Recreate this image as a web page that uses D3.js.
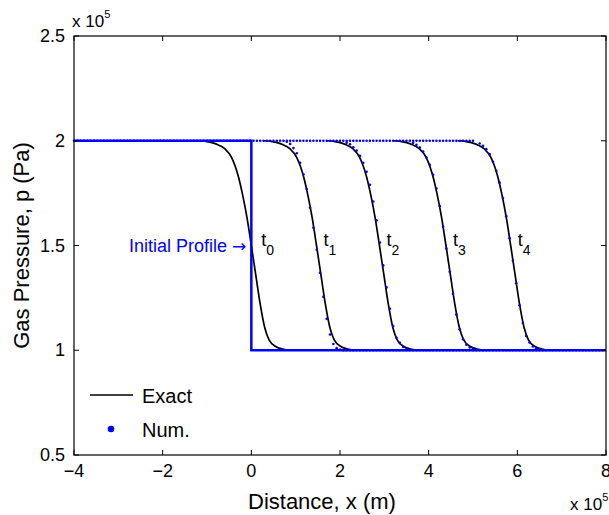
<!DOCTYPE html>
<html>
<head>
<meta charset="utf-8">
<script src="https://cdn.jsdelivr.net/npm/d3@7/dist/d3.min.js"></script>
<style>
  body { margin: 0; background: #fff; }
  text { font-family: "Liberation Sans", Arial, Helvetica, sans-serif; }
</style>
</head>
<body>
<svg id="chart"></svg>
<script>
// x in units of 1e5 m, p in units of 1e5 Pa
const xTicks = [-4, -2, 0, 2, 4, 6, 8];
const yTicks = [0.5, 1, 1.5, 2, 2.5];
const timeLabels = ["0", "1", "2", "3", "4"];

// initial step profile
const initialProfile = [[-4, 2], [0, 2], [0, 1], [8, 1]];

// exact solution, one array per time
const exact0 = [[-1.2, 2.0], [-1.0, 1.996], [-0.8, 1.985], [-0.6, 1.962], [-0.45, 1.922], [-0.3, 1.835], [-0.2, 1.745], [-0.1, 1.635], [0, 1.5], [0.1, 1.36], [0.2, 1.22], [0.3, 1.11], [0.4, 1.05], [0.55, 1.018], [0.7, 1.006], [0.9, 1.001], [1.1, 1.0]];
const exact1 = [[0.27, 2.0], [0.47, 1.996], [0.67, 1.985], [0.87, 1.962], [1.02, 1.922], [1.17, 1.835], [1.27, 1.745], [1.37, 1.635], [1.47, 1.5], [1.57, 1.36], [1.67, 1.22], [1.77, 1.11], [1.87, 1.05], [2.02, 1.018], [2.17, 1.006], [2.37, 1.001], [2.57, 1.0]];
const exact2 = [[1.69, 2.0], [1.89, 1.996], [2.09, 1.985], [2.29, 1.962], [2.44, 1.922], [2.59, 1.835], [2.69, 1.745], [2.79, 1.635], [2.89, 1.5], [2.99, 1.36], [3.09, 1.22], [3.19, 1.11], [3.29, 1.05], [3.44, 1.018], [3.59, 1.006], [3.79, 1.001], [3.99, 1.0]];
const exact3 = [[3.19, 2.0], [3.39, 1.996], [3.59, 1.985], [3.79, 1.962], [3.94, 1.922], [4.09, 1.835], [4.19, 1.745], [4.29, 1.635], [4.39, 1.5], [4.49, 1.36], [4.59, 1.22], [4.69, 1.11], [4.79, 1.05], [4.94, 1.018], [5.09, 1.006], [5.29, 1.001], [5.49, 1.0]];
const exact4 = [[4.65, 2.0], [4.85, 1.996], [5.05, 1.985], [5.25, 1.962], [5.4, 1.922], [5.55, 1.835], [5.65, 1.745], [5.75, 1.635], [5.85, 1.5], [5.95, 1.36], [6.05, 1.22], [6.15, 1.11], [6.25, 1.05], [6.4, 1.018], [6.55, 1.006], [6.75, 1.001], [6.95, 1.0]];

// numerical solution, points in the moving front
const num1 = [[0.8, 1.995], [0.875, 1.985], [0.95, 1.965], [1.025, 1.94], [1.1, 1.895], [1.175, 1.84], [1.25, 1.77], [1.325, 1.68], [1.4, 1.585], [1.475, 1.48], [1.55, 1.37], [1.625, 1.255], [1.7, 1.15], [1.775, 1.075], [1.85, 1.03], [1.925, 1.01], [2.0, 1.003]];
const num2 = [[2.15, 1.991], [2.225, 1.983], [2.3, 1.969], [2.375, 1.953], [2.45, 1.928], [2.525, 1.895], [2.6, 1.852], [2.675, 1.79], [2.75, 1.71], [2.825, 1.62], [2.9, 1.514], [2.975, 1.405], [3.05, 1.3], [3.125, 1.198], [3.2, 1.116], [3.275, 1.06], [3.35, 1.035], [3.425, 1.016], [3.5, 1.007]];
const num3 = [[3.65, 1.99], [3.725, 1.981], [3.8, 1.968], [3.875, 1.948], [3.95, 1.92], [4.025, 1.885], [4.1, 1.838], [4.175, 1.772], [4.25, 1.688], [4.325, 1.59], [4.4, 1.486], [4.475, 1.375], [4.55, 1.27], [4.625, 1.17], [4.7, 1.1], [4.775, 1.053], [4.85, 1.026], [4.925, 1.013], [5.0, 1.006]];
const num4 = [[5.15, 1.987], [5.225, 1.976], [5.3, 1.96], [5.375, 1.936], [5.45, 1.9], [5.525, 1.857], [5.6, 1.8], [5.675, 1.727], [5.75, 1.64], [5.825, 1.535], [5.9, 1.427], [5.975, 1.32], [6.05, 1.215], [6.125, 1.13], [6.2, 1.068], [6.275, 1.037], [6.35, 1.018], [6.425, 1.009], [6.5, 1.004]];
// numerical solution on the flat parts: [xStart, xEnd, p]
const numPlateaus = [[-4, 5.075, 2], [2.075, 8, 1]];
const numGridStep = 0.075;

const exactSeries = [exact0, exact1, exact2, exact3, exact4];
const numSeries = [num1, num2, num3, num4];

const width = 609, height = 515;
const plotLeft = 74, plotRight = 606, plotTop = 36, plotBottom = 455;
const blue = "#0000ff";

const svg = d3.select("#chart")
    .attr("width", width)
    .attr("height", height);

const x = d3.scaleLinear().domain([-4, 8]).range([plotLeft, plotRight]);
const y = d3.scaleLinear().domain([0.5, 2.5]).range([plotBottom, plotTop]);

const line = d3.line()
    .x(d => x(d[0]))
    .y(d => y(d[1]));

const plot = svg.append("g");

// exact curves
plot.selectAll(".exact")
    .data(exactSeries)
    .enter().append("path")
    .attr("class", "exact")
    .attr("d", line.curve(d3.curveMonotoneX))
    .style("fill", "none")
    .style("stroke", "#000")
    .style("stroke-width", 1.7);

// initial profile
plot.append("path")
    .attr("d", d3.line().x(d => x(d[0])).y(d => y(d[1]))(initialProfile))
    .style("fill", "none")
    .style("stroke", blue)
    .style("stroke-width", 2.5);

// numerical plateaus drawn as rows of dots
const gap = x(numGridStep) - x(0);
plot.selectAll(".plateau")
    .data(numPlateaus)
    .enter().append("line")
    .attr("x1", d => x(d[0]))
    .attr("x2", d => x(d[1]))
    .attr("y1", d => y(d[2]))
    .attr("y2", d => y(d[2]))
    .style("stroke", blue)
    .style("stroke-width", 2.6)
    .style("stroke-linecap", "round")
    .style("stroke-dasharray", `0 ${gap}`);

// numerical front dots
plot.selectAll(".num")
    .data(numSeries.flat())
    .enter().append("circle")
    .attr("cx", d => x(d[0]))
    .attr("cy", d => y(d[1]))
    .attr("r", 1.3)
    .style("fill", blue);

// axes box
const axisG = svg.append("g");
axisG.append("rect")
    .attr("x", plotLeft).attr("y", plotTop)
    .attr("width", plotRight - plotLeft).attr("height", plotBottom - plotTop)
    .style("fill", "none")
    .style("stroke", "#000")
    .style("stroke-width", 1.2);

const tickLen = 5;
xTicks.forEach(t => {
    axisG.append("line").attr("x1", x(t)).attr("x2", x(t)).attr("y1", plotBottom).attr("y2", plotBottom - tickLen).style("stroke", "#000");
    axisG.append("line").attr("x1", x(t)).attr("x2", x(t)).attr("y1", plotTop).attr("y2", plotTop + tickLen).style("stroke", "#000");
});
yTicks.forEach(t => {
    axisG.append("line").attr("x1", plotLeft).attr("x2", plotLeft + tickLen).attr("y1", y(t)).attr("y2", y(t)).style("stroke", "#000");
    axisG.append("line").attr("x1", plotRight).attr("x2", plotRight - tickLen).attr("y1", y(t)).attr("y2", y(t)).style("stroke", "#000");
});

axisG.selectAll(".xlab")
    .data(xTicks)
    .enter().append("text")
    .attr("x", d => x(d))
    .attr("y", plotBottom + 22)
    .attr("text-anchor", "middle")
    .style("font-size", "18px")
    .text(d => d < 0 ? "\u2212" + Math.abs(d) : d);

axisG.selectAll(".ylab")
    .data(yTicks)
    .enter().append("text")
    .attr("x", plotLeft - 9)
    .attr("y", d => y(d) + 6)
    .attr("text-anchor", "end")
    .style("font-size", "18px")
    .text(d => d);

// exponent labels
const expTop = svg.append("text").attr("x", 72).attr("y", 27).style("font-size", "17px");
expTop.append("tspan").text("x 10");
expTop.append("tspan").attr("dy", -9).style("font-size", "11px").text("5");

const expBot = svg.append("text").attr("x", 570).attr("y", 510).style("font-size", "17px");
expBot.append("tspan").text("x 10");
expBot.append("tspan").attr("dy", -9).style("font-size", "11px").text("5");

// axis titles
svg.append("text")
    .attr("x", 248)
    .attr("y", 509)
    .style("font-size", "22px")
    .text("Distance, x (m)");

svg.append("text")
    .attr("transform", `translate(29,${(plotTop + plotBottom) / 2}) rotate(-90)`)
    .attr("text-anchor", "middle")
    .style("font-size", "22px")
    .text("Gas Pressure, p (Pa)");

// time labels next to each exact front
exactSeries.forEach((s, i) => {
    const mid = s.find(d => d[1] === 1.5);
    const tx = x(mid[0]) + (i === 0 ? 10 : 7);
    const ty = y(1.5);
    const t = svg.append("text").attr("x", tx).attr("y", ty).style("font-size", "18px");
    t.append("tspan").text("t");
    t.append("tspan").attr("dy", 9).style("font-size", "14px").text(timeLabels[i]);
});

// initial profile annotation
const note = svg.append("text")
    .attr("x", x(0) - 5)
    .attr("y", y(1.5) + 6)
    .attr("text-anchor", "end")
    .style("font-size", "18px")
    .style("fill", blue);
note.append("tspan").text("Initial Profile ");
note.append("tspan").style("font-family", "DejaVu Sans").style("font-size", "17px").text("\u2192");

// legend
const legend = svg.append("g");
legend.append("line")
    .attr("x1", 90).attr("x2", 133)
    .attr("y1", 395).attr("y2", 395)
    .style("stroke", "#000")
    .style("stroke-width", 1.7);
legend.append("text").attr("x", 142).attr("y", 403).style("font-size", "20px").text("Exact");
legend.append("circle").attr("cx", 111).attr("cy", 429).attr("r", 3.3).style("fill", blue);
legend.append("text").attr("x", 142).attr("y", 437).style("font-size", "20px").text("Num.");
</script>
</body>
</html>
